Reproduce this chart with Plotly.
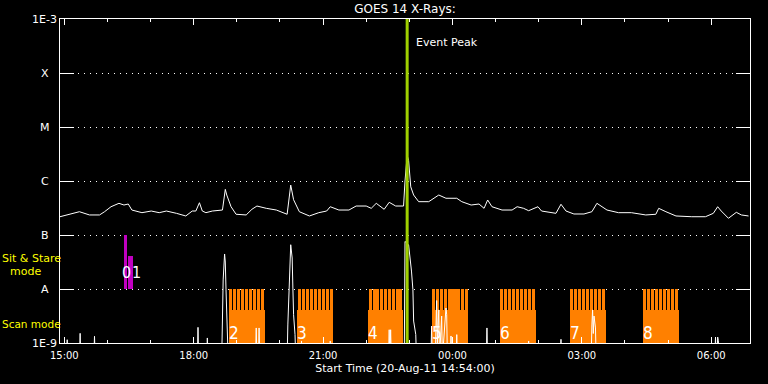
import math
import pandas as pd
import plotly.graph_objects as go

# ---------------- data ----------------
DAY1 = "2011-08-20"
DAY2 = "2011-08-21"
X_START = "2011-08-20 14:54"
X_END = "2011-08-21 06:54"
EVENT_PEAK = "2011-08-20 22:57"

# GOES 14 long channel (1-8 A), W/m^2
LONG_TIMES = ["14:54", "15:03", "15:21", "15:35", "15:49", "15:56", "16:05", "16:16", "16:23", "16:29",
              "16:34", "16:48", "17:01", "17:12", "17:22", "17:36", "17:49", "17:58", "18:03", "18:08",
              "18:12", "18:17", "18:26", "18:40", "18:44", "18:46", "18:52", "18:59", "19:13", "19:21",
              "19:28", "19:41", "19:55", "20:10", "20:15", "20:19", "20:27", "20:41", "20:54", "21:05",
              "21:10", "21:22", "21:36", "21:46", "22:00", "22:07", "22:14", "22:25", "22:32", "22:41",
              "22:52", "22:54", "22:57", "22:59", "23:02", "23:06", "23:13", "23:27", "23:41", "23:51",
              "00:06", "00:13", "00:26", "00:37", "00:44", "00:49", "00:55", "01:09", "01:23", "01:30",
              "01:39", "01:46", "01:59", "02:04", "02:24", "02:31", "02:38", "02:49", "03:03", "03:14",
              "03:21", "03:35", "03:51", "04:09", "04:29", "04:43", "04:47", "04:57", "05:11", "05:33",
              "05:52", "06:03", "06:09", "06:14", "06:24", "06:35", "06:42", "06:52"]
LONG_FLUX = [2.18e-7, 2.35e-7, 2.70e-7, 2.35e-7, 2.35e-7, 2.70e-7, 3.34e-7, 3.86e-7, 3.59e-7, 3.75e-7,
             2.90e-7, 2.59e-7, 2.78e-7, 2.59e-7, 2.78e-7, 2.52e-7, 2.25e-7, 2.78e-7, 2.78e-7, 3.96e-7,
             2.78e-7, 2.59e-7, 2.78e-7, 2.90e-7, 7.0e-7, 5.5e-7, 3.34e-7, 2.42e-7, 2.35e-7, 2.99e-7,
             3.44e-7, 3.12e-7, 2.90e-7, 2.42e-7, 8.4e-7, 4.5e-7, 2.70e-7, 2.25e-7, 2.59e-7, 2.78e-7,
             3.34e-7, 2.90e-7, 2.90e-7, 3.44e-7, 3.44e-7, 3.12e-7, 3.86e-7, 2.99e-7, 4.03e-7, 3.44e-7,
             3.44e-7, 1.0e-6, 3.0e-6, 2.4e-6, 7.8e-7, 5.5e-7, 4.14e-7, 4.14e-7, 5.5e-7, 4.79e-7,
             4.79e-7, 4.14e-7, 3.59e-7, 3.75e-7, 3.12e-7, 4.45e-7, 3.34e-7, 2.90e-7, 2.90e-7, 3.34e-7,
             3.12e-7, 2.82e-7, 3.34e-7, 2.78e-7, 2.52e-7, 3.71e-7, 2.78e-7, 2.45e-7, 2.45e-7, 2.70e-7,
             3.86e-7, 2.90e-7, 2.59e-7, 2.59e-7, 2.35e-7, 2.42e-7, 3.12e-7, 2.70e-7, 2.25e-7, 2.18e-7,
             2.18e-7, 2.52e-7, 3.34e-7, 2.78e-7, 2.04e-7, 2.63e-7, 2.35e-7, 2.25e-7]

# GOES 14 short channel (0.5-4 A), W/m^2 (5e-10 = below the plotted range)
SHORT_TIMES = ["14:54", "15:03", "15:04", "15:05", "15:21", "15:22", "15:23", "15:41", "15:42", "15:43",
               "18:05", "18:06", "18:07", "18:18", "18:19", "18:20", "18:39", "18:40", "18:41", "18:43",
               "18:44", "18:45", "18:47", "18:48", "19:26", "19:27", "19:28", "19:30", "19:31", "19:32",
               "20:10", "20:11", "20:15", "20:17", "20:18", "20:19", "20:21", "20:22", "20:29", "20:30",
               "20:31", "21:09", "21:10", "21:11", "22:31", "22:32", "22:33", "22:34", "22:35", "22:53",
               "22:54", "22:59", "23:03", "23:05", "23:06", "23:09", "23:10", "23:30", "23:31", "23:32",
               "23:36", "23:37", "23:38", "23:39", "23:41", "23:42", "23:45", "23:46", "23:51", "23:52",
               "23:53", "23:57", "23:58", "23:59", "00:05", "00:06", "00:07", "00:47", "00:48", "00:49",
               "01:45", "01:46", "01:47", "02:30", "02:31", "02:32", "03:13", "03:14", "03:15", "03:16",
               "03:17", "03:19", "03:20", "06:05", "06:06", "06:07", "06:08", "06:09", "06:10", "06:11",
               "06:52"]
SHORT_FLUX = [5e-10, 5e-10, 1.15e-9, 5e-10, 5e-10, 1.51e-9, 5e-10, 5e-10, 1.33e-9, 5e-10,
              5e-10, 1.95e-9, 5e-10, 5e-10, 1.24e-9, 5e-10, 5e-10, 3.6e-9, 1.47e-8, 4.45e-8,
              3.16e-8, 9.6e-9, 1.74e-9, 5e-10, 5e-10, 1.9e-9, 5e-10, 5e-10, 1.9e-9, 5e-10,
              5e-10, 2.16e-9, 6.6e-8, 3.75e-8, 1.04e-8, 3.34e-9, 1.43e-9, 5e-10, 5e-10, 1.09e-9,
              5e-10, 5e-10, 1.09e-9, 5e-10, 5e-10, 1.76e-9, 5e-10, 1.76e-9, 5e-10, 5e-10,
              7.6e-8, 6.6e-8, 2.15e-8, 9.7e-9, 2.55e-9, 1.43e-9, 5e-10, 5e-10, 2.06e-9, 5e-10,
              5e-10, 5.1e-9, 6.1e-9, 1.0e-9, 4.1e-9, 5e-10, 3.16e-9, 5e-10, 4.45e-9, 3.34e-9,
              5e-10, 5e-10, 1.35e-9, 5e-10, 5e-10, 1.43e-9, 5e-10, 5e-10, 1.9e-9, 5e-10,
              5e-10, 1.09e-9, 5e-10, 5e-10, 1.17e-9, 5e-10, 5e-10, 2.16e-9, 4.1e-9, 1.5e-9,
              3.16e-9, 1.9e-9, 5e-10, 5e-10, 1.29e-9, 5e-10, 5e-10, 1.29e-9, 1.1e-9, 5e-10,
              5e-10]

# IRIS-style observation blocks
SIT_LABELS = ["0", "1"]
SIT_START = ["16:23", "16:29"]
SIT_END = ["16:27", "16:35"]
SIT_TOP = [1.0e-7, 4.1e-8]
SIT_BASE = 1.0e-8

SCAN_LABELS = ["2", "3", "4", "5", "6", "7", "8"]
SCAN_START = ["18:49", "20:24", "22:03", "23:31", "01:06", "02:43", "04:25"]
SCAN_END = ["19:39", "21:14", "22:51", "00:22", "01:56", "03:33", "05:15"]
SCAN_RASTERS = [9, 9, 9, 9, 9, 9, 9]
SCAN_BASE = 1.0e-9
SCAN_LOW_TOP = 4.1e-9
SCAN_TOP = 1.0e-8

Y_TICK_VALUES = [1e-9, 1e-8, 1e-7, 1e-6, 1e-5, 1e-4, 1e-3]
Y_TICK_LABELS = ["1E-9", "A", "B", "C", "M", "X", "1E-3"]

TITLE = "GOES 14 X-Rays:"
X_TITLE = "Start Time (20-Aug-11 14:54:00)"

# ---------------- helpers ----------------
def ts(hhmm):
    day = DAY1 if int(hhmm[:2]) >= 12 else DAY2
    return pd.Timestamp(f"{day} {hhmm}")

FONT = "DejaVu Sans"
NUM_FONT = "Liberation Sans Narrow, DejaVu Sans Condensed, DejaVu Sans"
ORANGE = "#ff8000"
MAGENTA = "#c000c0"
GREEN = "#a0d000"
YELLOW = "#ffff00"

fig = go.Figure()

# scan blocks: solid lower part + comb of rasters
low_x, low_w = [], []
comb_x, comb_w = [], []
for s, e, n in zip(SCAN_START, SCAN_END, SCAN_RASTERS):
    t0, t1 = ts(s), ts(e)
    low_x.append(t0 + (t1 - t0) / 2)
    low_w.append((t1 - t0).total_seconds() * 1000)
    per = (t1 - t0) / n
    for k in range(n):
        comb_x.append(t0 + per * (k + 0.5))
        comb_w.append((per.total_seconds() - 75) * 1000)

fig.add_trace(go.Bar(x=low_x, y=[SCAN_LOW_TOP - SCAN_BASE] * len(low_x), base=SCAN_BASE,
                     width=low_w, marker=dict(color=ORANGE, line=dict(width=0)), showlegend=False))
fig.add_trace(go.Bar(x=comb_x, y=[SCAN_TOP - SCAN_BASE] * len(comb_x), base=SCAN_BASE,
                     width=comb_w, marker=dict(color=ORANGE, line=dict(width=0)), showlegend=False))

# sit & stare
sit_x = [ts(s) + (ts(e) - ts(s)) / 2 for s, e in zip(SIT_START, SIT_END)]
sit_w = [(ts(e) - ts(s)).total_seconds() * 1000 for s, e in zip(SIT_START, SIT_END)]
fig.add_trace(go.Bar(x=sit_x, y=[t - SIT_BASE for t in SIT_TOP], base=SIT_BASE, width=sit_w,
                     marker=dict(color=MAGENTA, line=dict(width=0)), showlegend=False))

# GOES curves
fig.add_trace(go.Scatter(x=[ts(t) for t in SHORT_TIMES], y=SHORT_FLUX, mode="lines",
                         line=dict(color="white", width=1), showlegend=False))
fig.add_trace(go.Scatter(x=[ts(t) for t in LONG_TIMES], y=LONG_FLUX, mode="lines",
                         line=dict(color="white", width=1), showlegend=False))

# event peak line
fig.add_shape(type="line", xref="x", yref="paper", x0=EVENT_PEAK, x1=EVENT_PEAK, y0=0, y1=1,
              line=dict(color=GREEN, width=3), layer="above")

ann = []
ann.append(dict(text="Event Peak", xref="x", yref="paper", x=EVENT_PEAK, y=0.926,
                xanchor="left", yanchor="middle", xshift=7, showarrow=False,
                font=dict(family=FONT, size=11, color="white")))

# block numbers
for i, (lab, s) in enumerate(zip(SIT_LABELS, SIT_START)):
    ann.append(dict(text=lab, xref="x", yref="y", x=ts(s), y=math.log10(2.05e-8),
                    xanchor="left", yanchor="middle", xshift=-3 + 6 * i, borderpad=0,
                    showarrow=False, font=dict(family=NUM_FONT, size=16, color="white")))
for lab, s in zip(SCAN_LABELS, SCAN_START):
    ann.append(dict(text=lab, xref="x", yref="y", x=ts(s), y=math.log10(1.5e-9),
                    xanchor="left", yanchor="middle", xshift=-1, borderpad=0, showarrow=False,
                    font=dict(family=NUM_FONT, size=17, color="white")))

# y labels (centred, left of the axis)
for v, lab in zip(Y_TICK_VALUES, Y_TICK_LABELS):
    ann.append(dict(text=lab, xref="paper", yref="y", x=(44.5 - 60) / 690, y=math.log10(v),
                    xanchor="center", yanchor="middle", showarrow=False,
                    font=dict(family=FONT, size=11, color="white")))

# mode labels
ann.append(dict(text="Sit & Stare", xref="paper", yref="paper", x=(0 - 60) / 690, y=(343 - 258) / 324,
                xanchor="left", yanchor="middle", showarrow=False,
                font=dict(family=FONT, size=11, color=YELLOW)))
ann.append(dict(text="mode", xref="paper", yref="paper", x=(25 - 60) / 690, y=(343 - 271) / 324,
                xanchor="center", yanchor="middle", showarrow=False,
                font=dict(family=FONT, size=11, color=YELLOW)))
ann.append(dict(text="Scan mode", xref="paper", yref="paper", x=(0 - 60) / 690, y=(343 - 324) / 324,
                xanchor="left", yanchor="middle", showarrow=False,
                font=dict(family=FONT, size=10.5, color=YELLOW)))

fig.update_layout(
    width=768, height=384,
    margin=dict(l=60, r=18, t=19, b=41, autoexpand=False),
    paper_bgcolor="black", plot_bgcolor="black",
    barmode="overlay", bargap=0,
    showlegend=False,
    title=dict(text=TITLE, x=0.5, xref="paper", xanchor="center", y=1 - 9 / 384, yref="container",
               yanchor="middle", font=dict(family=FONT, size=12, color="white")),
    annotations=ann,
    xaxis=dict(type="date", range=[X_START, X_END], tickformat="%H:%M",
               tick0="2011-08-20 15:00", dtick=3 * 3600 * 1000,
               ticks="inside", ticklen=6, tickwidth=1, tickcolor="white",
               minor=dict(tick0="2011-08-20 15:00", dtick=3600 * 1000, ticks="inside", ticklen=3,
                          tickwidth=1, tickcolor="white", showgrid=False),
               showline=True, linecolor="white", linewidth=1, mirror="allticks",
               showgrid=False, zeroline=False,
               tickfont=dict(family=FONT, size=10, color="white"), ticklabelstandoff=3,
               title=dict(text=X_TITLE, font=dict(family=FONT, size=11, color="white"), standoff=4),
               automargin=False),
    yaxis=dict(type="log", range=[-9, -3], tickvals=Y_TICK_VALUES, showticklabels=False,
               ticks="inside", ticklen=14, tickwidth=1, tickcolor="white",
               showline=True, linecolor="white", linewidth=1, mirror="allticks",
               showgrid=True, gridcolor="white", gridwidth=1, griddash="1px,5px",
               zeroline=False, automargin=False),
)

fig.write_html("out.html", config={"displayModeBar": False},
               post_script="document.body.style.margin='0';document.body.style.background='black';"
                           "document.body.style.overflow='hidden';")
